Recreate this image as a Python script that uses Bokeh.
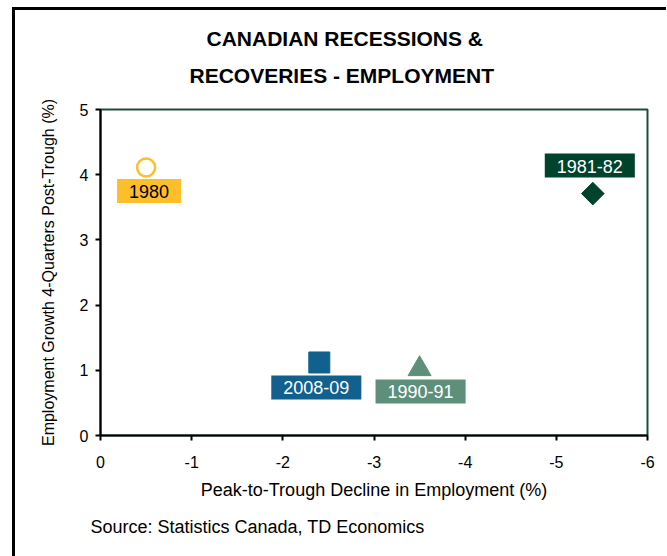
from bokeh.plotting import figure
from bokeh.models import Range1d, FixedTicker, Label, Title
from bokeh.embed import file_html
from bokeh.resources import INLINE
import math

# ---- data ----
episodes = ["1980", "1981-82", "2008-09", "1990-91"]
peak_to_trough = [-0.5, -5.4, -2.4, -3.5]
growth_4q = [4.11, 3.71, 1.12, 1.02]
x_ticks = [0, -1, -2, -3, -4, -5, -6]
x_tick_labels = ["0", "-1", "-2", "-3", "-4", "-5", "-6"]
y_ticks = [0, 1, 2, 3, 4, 5]
y_tick_labels = ["0", "1", "2", "3", "4", "5"]
title_lines = ["CANADIAN RECESSIONS &", "RECOVERIES - EMPLOYMENT"]
x_title = "Peak-to-Trough Decline in Employment (%)"
y_title = "Employment Growth 4-Quarters Post-Trough (%)"
source_note = "Source: Statistics Canada, TD Economics"

FONT = "Liberation Sans"
YELLOW = "#FCBF2B"
DKGREEN = "#00432C"
BLUE = "#12608E"
GREYGREEN = "#5E8F7B"

p = figure(
    x_range=Range1d(0, -6), y_range=Range1d(0, 5),
    frame_width=547, frame_height=326,
    min_border_left=85, min_border_right=19, min_border_top=99, min_border_bottom=121,
    output_backend="svg", toolbar_location=None, tools="",
)
p.margin = (7, 0, 0, 12)
p.styles = {"border-left": "3px solid black", "border-top": "3px solid black"}

p.background_fill_color = "white"
p.border_fill_color = "white"
p.outline_line_color = "#1E4C3C"
p.outline_line_width = 2
p.grid.visible = False

for ax in (p.xaxis[0], p.yaxis[0]):
    ax.axis_line_color = "black"
    ax.axis_line_width = 2
    ax.major_tick_line_color = "black"
    ax.major_tick_line_width = 2
    ax.major_tick_out = 5
    ax.major_tick_in = 0
    ax.minor_tick_line_color = None
    ax.major_label_text_font = FONT
    ax.major_label_text_font_size = "16px"
    ax.major_label_text_color = "black"
    ax.axis_label_text_font = FONT
    ax.axis_label_text_font_style = "normal"
    ax.axis_label_text_color = "black"

p.xaxis.ticker = FixedTicker(ticks=x_ticks)
p.xaxis.major_label_overrides = dict(zip(x_ticks, x_tick_labels))
p.yaxis.ticker = FixedTicker(ticks=y_ticks)
p.yaxis.major_label_overrides = dict(zip(y_ticks, y_tick_labels))
p.xaxis.axis_label = x_title
p.xaxis.axis_label_text_font_size = "18px"
p.xaxis.major_label_standoff = 15
p.xaxis.axis_label_standoff = 9
p.yaxis.axis_label = y_title
p.yaxis.axis_label_text_font_size = "16px"
p.yaxis.major_label_standoff = 7
p.yaxis.axis_label_standoff = 20

# title: line 2 nearest the frame, then line 1
p.add_layout(Title(text=title_lines[1], align="left", offset=89, vertical_align="bottom",
                   text_font=FONT, text_font_size="21px", text_font_style="bold",
                   text_color="black", standoff=46), "above")
p.add_layout(Title(text=title_lines[0], align="left", offset=106, vertical_align="bottom",
                   text_font=FONT, text_font_size="21px", text_font_style="bold",
                   text_color="black", standoff=-22), "above")

# source note below the axis title
p.add_layout(Title(text=source_note, align="left", offset=-10, vertical_align="top",
                   text_font=FONT, text_font_size="18px", text_font_style="normal",
                   text_color="black", standoff=28), "below")

# markers
p.scatter([peak_to_trough[0]], [growth_4q[0]], marker="circle", size=18,
          fill_color="white", line_color=YELLOW, line_width=2.5)
p.scatter([peak_to_trough[1]], [growth_4q[1]], marker="square", size=16,
          angle=math.pi / 4, fill_color=DKGREEN, line_color=DKGREEN)
p.scatter([peak_to_trough[2]], [growth_4q[2]], marker="square", size=21,
          fill_color=BLUE, line_color=BLUE)
p.scatter([peak_to_trough[3]], [growth_4q[3]], marker="triangle", size=23,
          fill_color=GREYGREEN, line_color=GREYGREEN)

# labels
styles = [
    (YELLOW, "black", 3, -23.5),
    (DKGREEN, "white", -3, 28),
    (BLUE, "white", -3, -25),
    (GREYGREEN, "white", 1, -22.5),
]
for name, xv, yv, (bg, fg, dx, dy) in zip(episodes, peak_to_trough, growth_4q, styles):
    p.add_layout(Label(x=xv, y=yv, x_offset=dx, y_offset=dy, text=name,
                       text_align="center", text_baseline="middle",
                       text_font=FONT, text_font_size="18px", text_color=fg,
                       background_fill_color=bg, background_fill_alpha=1.0,
                       padding=dict(left=12, right=12, top=6, bottom=5)))

open("out.html", "w").write(file_html(p, INLINE))
